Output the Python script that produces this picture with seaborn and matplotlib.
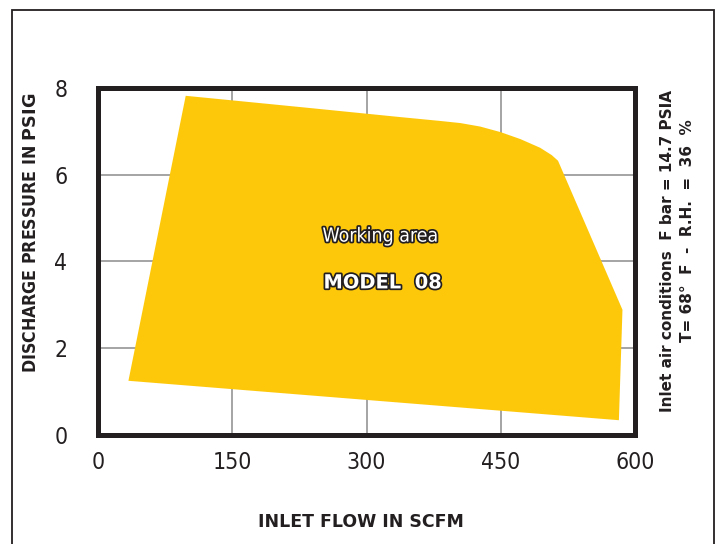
import matplotlib
matplotlib.use('Agg')
import matplotlib.pyplot as plt
import matplotlib.patheffects as pe
from matplotlib.patches import Rectangle
import seaborn as sns

# operating envelope (flow in SCFM, pressure in PSIG)
flow = [98, 226, 337, 382, 405, 427, 450, 472, 494, 507, 514, 586, 582, 34]
pressure = [7.82, 7.56, 7.33, 7.24, 7.19, 7.11, 6.98, 6.82, 6.62, 6.45, 6.32, 2.88, 0.33, 1.24]

x_ticks = [0, 150, 300, 450, 600]
y_ticks = [0, 2, 4, 6, 8]

sns.set_theme(style='white')
plt.rcParams['font.family'] = ['DejaVu Sans']

dark = '#231f20'
yellow = '#fec80a'

fig = plt.figure(figsize=(7.19, 5.44), dpi=100)
ax = fig.add_axes([98 / 719, 1 - 434.5 / 544, (635 - 98) / 719, (434.5 - 88) / 544])

ax.fill(flow, pressure, color=yellow, lw=0, zorder=2)

ax.set_xlim(0, 600)
ax.set_ylim(0, 8)
ax.set_xticks(x_ticks)
ax.set_yticks(y_ticks)
ax.set_axisbelow(True)
ax.grid(True, color='#8c8c8c', lw=1.1)
ax.tick_params(length=0, labelsize=16.5, colors=dark)
ax.tick_params(axis='x', pad=12)
ax.tick_params(axis='y', pad=22)
for lab in ax.get_xticklabels() + ax.get_yticklabels():
    lab.set_stretch('condensed')
for sp in ax.spines.values():
    sp.set_visible(True)
    sp.set_color(dark)
    sp.set_linewidth(3.6)
    sp.set_zorder(5)

ax.set_xlabel('INLET FLOW IN SCFM', fontsize=12.5, fontweight='heavy',
              color=dark, labelpad=0)
ax.xaxis.set_label_coords(0.49, 1 - (513 - 88) / 346.5)
ax.set_ylabel('DISCHARGE PRESSURE IN $\\bf{PSIG}$', fontsize=12.7, color=dark,
              fontweight='bold', stretch='condensed')
ax.yaxis.set_label_coords((40 - 98) / 537, 1 - (233 - 88) / 346.5)

stroke = [pe.withStroke(linewidth=2.5, foreground=dark)]
ax.text(316, 4.58, 'Working area', fontsize=14, color='white', ha='center',
        va='center', stretch='condensed', path_effects=stroke, zorder=6)
ax.text(318, 3.5, 'MODEL  08', fontsize=14, fontweight='bold', color='white',
        ha='center', va='center', path_effects=stroke, zorder=6)

fig.text(668 / 719, 1 - 251 / 544, 'Inlet air conditions  F bar = 14.7 PSIA',
         rotation=90, fontsize=11, fontweight='bold', color=dark,
         ha='center', va='center')
fig.text(687 / 719, 1 - 231 / 544, 'T= 68°  F  -  R.H.  =  36  %',
         rotation=90, fontsize=11, fontweight='bold', color=dark,
         ha='center', va='center')

# outer border (open at the bottom of the picture)
fig.patches.append(Rectangle((12 / 719, -0.05), (714 - 12) / 719, 1 - 10 / 544 + 0.05,
                             transform=fig.transFigure, fill=False,
                             edgecolor=dark, lw=1.3))

fig.savefig('out.png', dpi=100)
